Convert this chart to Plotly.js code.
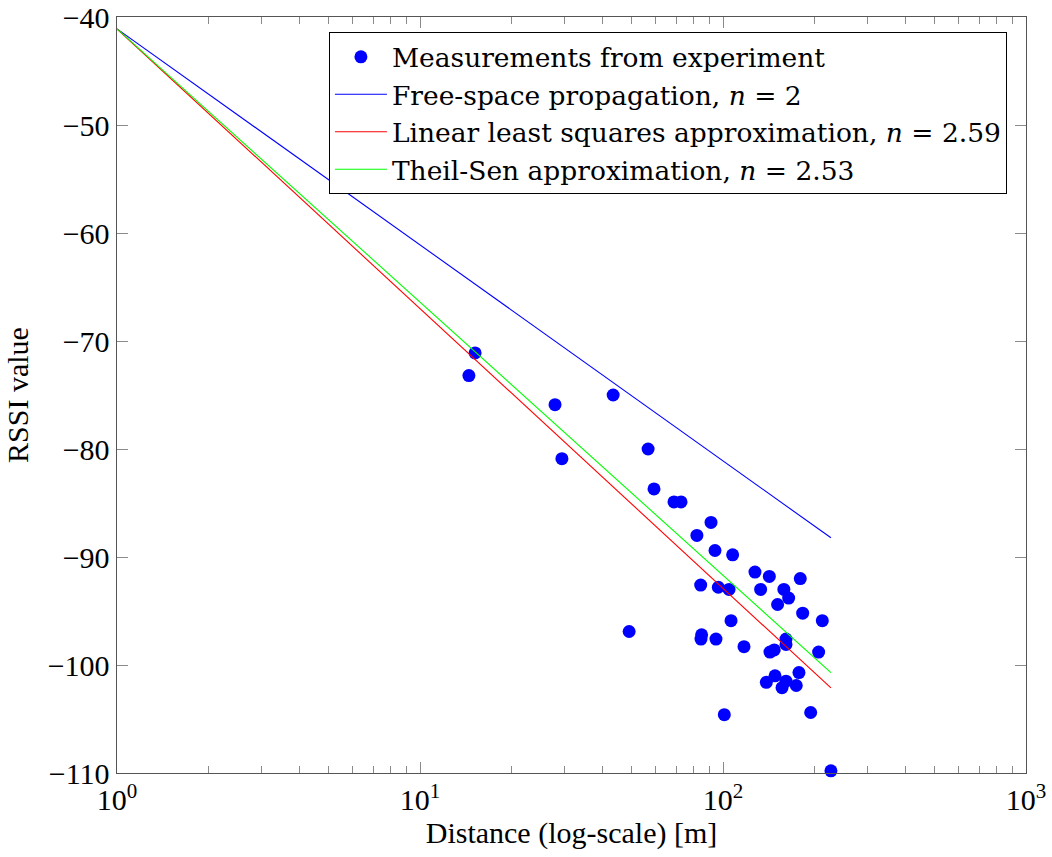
<!DOCTYPE html>
<html>
<head>
<meta charset="utf-8">
<script src="https://cdn.plot.ly/plotly-3.0.1.min.js"></script>
<style>
  html, body { margin: 0; padding: 0; background: #ffffff; }
  #chart { width: 1052px; height: 857px; }
</style>
</head>
<body>
<div id="chart"></div>
<script>
// Measured RSSI against distance from the transmitter
const distance = [
  14.5, 15.2, 27.9, 29.4, 43.4, 49.0, 56.6, 59.2, 68.9, 72.7,
  82.0, 84.4, 85.0, 84.6, 91.3, 94.1, 94.8, 96.5, 101.0, 104.7,
  106.3, 107.6, 117.3, 127.5, 133.1, 139.0, 142.2, 142.9, 147.6, 148.5,
  151.4, 156.6, 158.8, 161.4, 161.4, 161.4, 164.7, 174.5, 178.1, 179.9,
  183.2, 194.7, 206.8, 212.7, 227.1
];
const rssi = [
  -73.2, -71.1, -75.9, -80.9, -75.0, -96.9, -80.0, -83.7, -84.9, -84.9,
  -88.0, -92.6, -97.2, -97.6, -86.8, -89.4, -97.6, -92.8, -104.6, -93.0,
  -95.9, -89.8, -98.3, -91.4, -93.0, -101.6, -91.8, -98.8, -98.6, -101.0,
  -94.4, -102.1, -93.0, -97.6, -98.1, -101.5, -93.8, -101.9, -100.7, -92.0,
  -95.2, -104.4, -98.8, -95.9, -109.8
];

// Log-distance path loss model: RSSI(d) = P0 - 10 n log10(d)
const refPower = -41.1;           // RSSI at 1 m
const modelNames = [
  'Free-space propagation, <i>n</i> = 2',
  'Linear least squares approximation, <i>n</i> = 2.59',
  'Theil-Sen approximation, <i>n</i> = 2.53'
];
const modelExponents = [2, 2.59, 2.53];
const modelColors = ['#0000ff', '#ff0000', '#00ff00'];

// Axis tick labels
const xTickVals = [1, 10, 100, 1000];
const xTickText = ['10<sup>0</sup>', '10<sup>1</sup>', '10<sup>2</sup>', '10<sup>3</sup>'];
const yTickVals = [-110, -100, -90, -80, -70, -60, -50, -40];

const dMax = Math.max(...distance);
const lineX = [1, dMax];

const traces = [{
  type: 'scatter',
  mode: 'markers',
  x: distance,
  y: rssi,
  name: 'Measurements from experiment',
  marker: { color: '#0000ff', size: 13 },
  cliponaxis: false
}];

modelExponents.forEach((n, i) => {
  traces.push({
    type: 'scatter',
    mode: 'lines',
    x: lineX,
    y: lineX.map(d => refPower - 10 * n * Math.log10(d)),
    name: modelNames[i],
    line: { color: modelColors[i], width: 1.1 }
  });
});

// minor ticks at 2..9 of each decade
const minorVals = [];
for (let p = 0; p < 3; p++) {
  for (let k = 2; k <= 9; k++) minorVals.push(k * Math.pow(10, p));
}

const serif = 'Liberation Serif, serif';
const legendSerif = 'DejaVu Serif, serif';
const f = (size, family) => ({ family: family || serif, size: size, color: '#000000' });

const layout = {
  width: 1052,
  height: 857,
  margin: { l: 117, r: 26, t: 17, b: 84 },
  paper_bgcolor: '#ffffff',
  plot_bgcolor: '#ffffff',
  font: f(30),
  showlegend: true,
  legend: {
    x: 0.979, y: 0.980, xanchor: 'right', yanchor: 'top',
    bgcolor: '#ffffff',
    bordercolor: '#000000',
    borderwidth: 1,
    font: f(26.5, legendSerif),
    itemwidth: 52,
    tracegroupgap: 0
  },
  xaxis: {
    type: 'log',
    range: [0, 3],
    tickmode: 'array',
    tickvals: xTickVals,
    ticktext: xTickText,
    ticks: 'inside',
    ticklen: 11,
    tickwidth: 1,
    tickcolor: '#8a8a8a',
    showgrid: false,
    zeroline: false,
    showline: true,
    linecolor: '#555555',
    linewidth: 1.4,
    mirror: 'ticks',
    tickfont: f(30),
    minor: {
      tickmode: 'array',
      tickvals: minorVals,
      ticks: 'inside',
      ticklen: 7,
      tickwidth: 1,
      tickcolor: '#8a8a8a',
      showgrid: false
    },
    title: { text: 'Distance (log-scale) [m]', font: f(30), standoff: 6 }
  },
  yaxis: {
    range: [-110, -40],
    tickmode: 'array',
    tickvals: yTickVals,
    ticks: 'inside',
    ticklen: 11,
    tickwidth: 1,
    tickcolor: '#8a8a8a',
    showgrid: false,
    zeroline: false,
    showline: true,
    linecolor: '#555555',
    linewidth: 1.4,
    mirror: 'ticks',
    tickfont: f(30),
    title: { text: 'RSSI value', font: f(30), standoff: 10 }
  }
};

Plotly.newPlot('chart', traces, layout, { displayModeBar: false, staticPlot: true });
</script>
</body>
</html>
